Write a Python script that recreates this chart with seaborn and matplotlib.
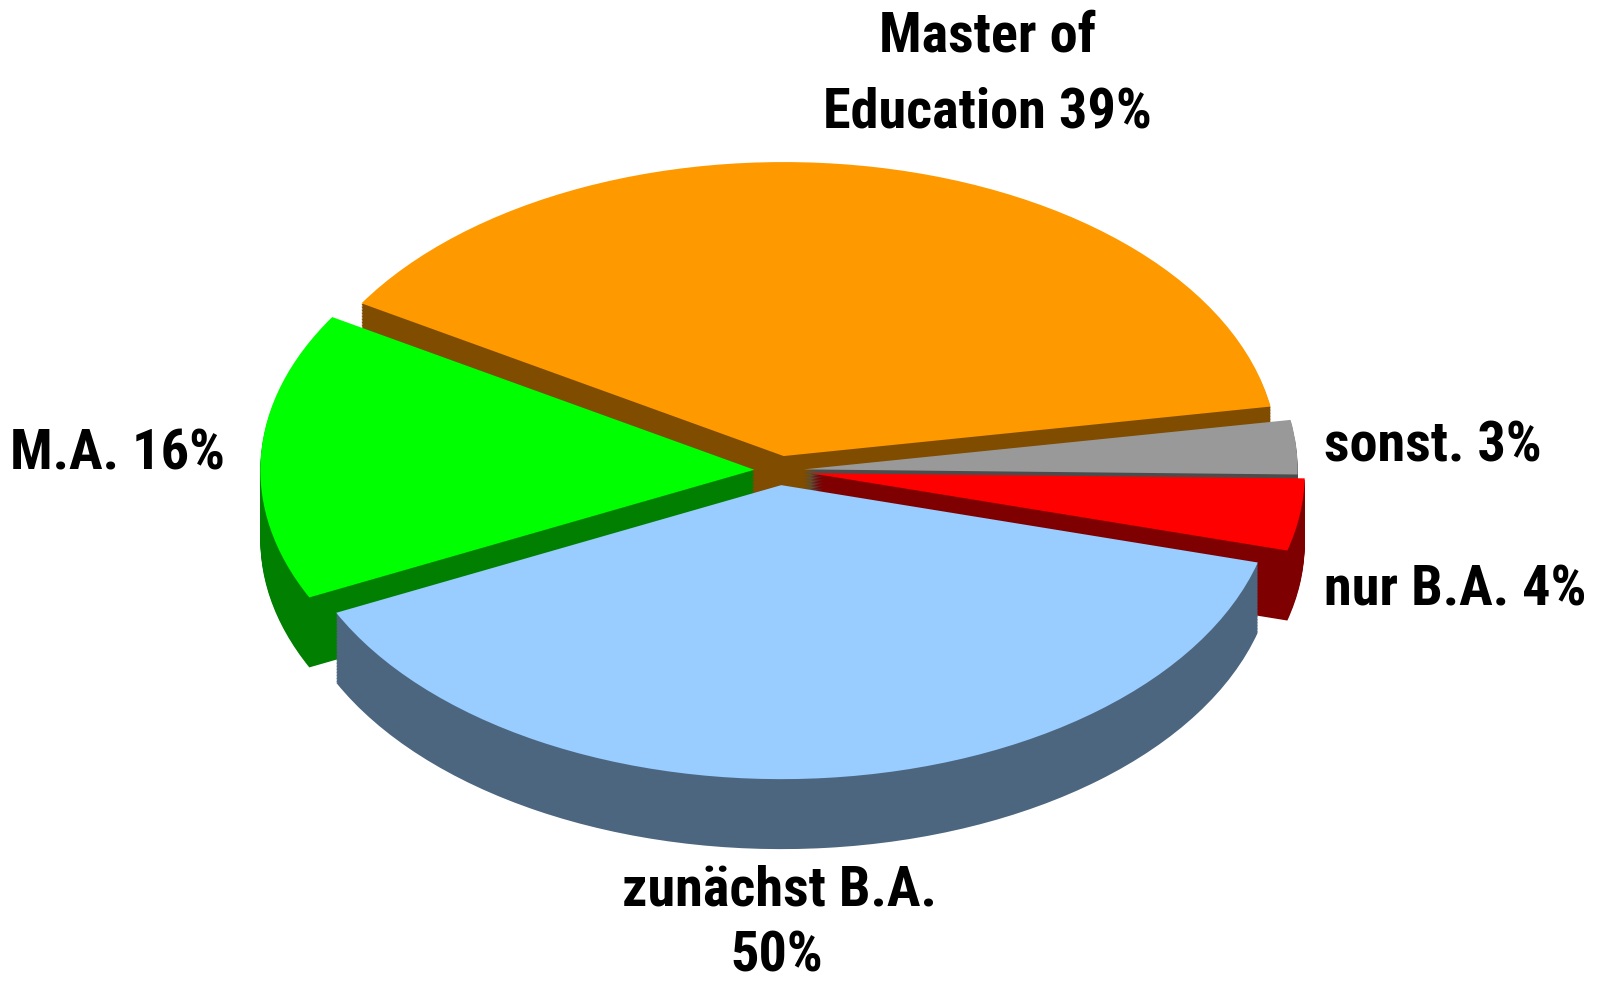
import numpy as np
import matplotlib
matplotlib.use("Agg")
import matplotlib.pyplot as plt
import seaborn as sns
from matplotlib import font_manager

# slices, counter-clockwise starting at the right-hand side
labels = ["sonst.", "Master of Education", "M.A.", "zunächst B.A.", "nur B.A."]
label_pct = [3, 39, 16, 50, 4]          # percentages printed on the chart
slice_sizes = [3, 39, 16, 39, 4]        # slice angles as drawn in the chart
top_colors = ["#999999", "#FF9900", "#00FF00", "#99CCFF", "#FF0000"]
side_colors = ["#4C4C4C", "#7F4C00", "#007F00", "#4C6680", "#7F0000"]
explode = [0.05, 0.05, 0.05, 0.05, 0.065]
draw_rank = [1, 0, 2, 4, 3]  # back to front

sns.set_style("white")


def narrow_bold_font():
    found = []
    for f in font_manager.fontManager.ttflist:
        key = (f.name + " " + f.fname).lower()
        if "mono" in key or "serif" in key.replace("sans-serif", ""):
            continue
        narrow = any(s in key for s in ("narrow", "condensed")) or str(f.stretch) in ("condensed", "semi-condensed")
        bold = str(f.weight) in ("bold", "700", "heavy", "800") or "bold" in key
        if narrow and bold and "italic" not in key and "oblique" not in key:
            found.append(f.fname)
    found.sort(key=lambda p: (0 if "liberation" in p.lower() else 1 if "roboto" in p.lower() else 2))
    return found[0] if found else None


fname = narrow_bold_font()
plt.rcParams["font.family"] = ["Liberation Sans", "DejaVu Sans"]
if fname:
    base_prop = font_manager.FontProperties(fname=fname)
else:
    base_prop = font_manager.FontProperties(family=["Liberation Sans", "DejaVu Sans"], weight="bold")

W, H = 1607, 986
fig = plt.figure(figsize=(W / 100, H / 100), dpi=100)
ax = fig.add_axes([0, 0, 1, 1])

# fake 3D: stack darker copies of the pie downwards, then the lit top
depth = 0.238
levels = np.linspace(depth, 0, 48)
for i, k in enumerate(levels):
    is_top = i == len(levels) - 1
    wedges, _ = ax.pie(
        slice_sizes,
        colors=top_colors if is_top else side_colors,
        explode=explode,
        startangle=-1,
        center=(0, -k),
        wedgeprops=dict(linewidth=0),
    )
    for w, r in zip(wedges, draw_rank):
        w.set_zorder(r * 100 + i + (10 if is_top else 0))

cx, cy, rx, ry = 779, 470.5, 494, 294
ax.set_aspect("auto")
ax.set_xlim(-cx / rx, (W - cx) / rx)
ax.set_ylim(-(H - cy) / ry, cy / ry)
ax.axis("off")

# size the labels so "Education 39%" is about as wide as in the original (~343 px)
renderer = fig.canvas.get_renderer()
probe = fig.text(0, 0, "Education 39%", fontproperties=base_prop, fontsize=38)
width = probe.get_window_extent(renderer).width
probe.remove()
size = min(40.5, 38 * 343 / width)
prop = base_prop.copy()
prop.set_size(size)


def label(x, y, text, ha="center"):
    fig.text(x / W, 1 - y / H, text, ha=ha, va="baseline", color="black", fontproperties=prop)


label(987, 51, "Master of")
label(987, 128, f"Education {label_pct[1]}%")
label(1324, 462, f"{labels[0]} {label_pct[0]}%", ha="left")
label(1324, 605, f"{labels[4]} {label_pct[4]}%", ha="left")
label(225, 470, f"{labels[2]} {label_pct[2]}%", ha="right")
label(779, 905, labels[3])
label(777, 972, f"{label_pct[3]}%")

fig.savefig("out.png", dpi=100)
